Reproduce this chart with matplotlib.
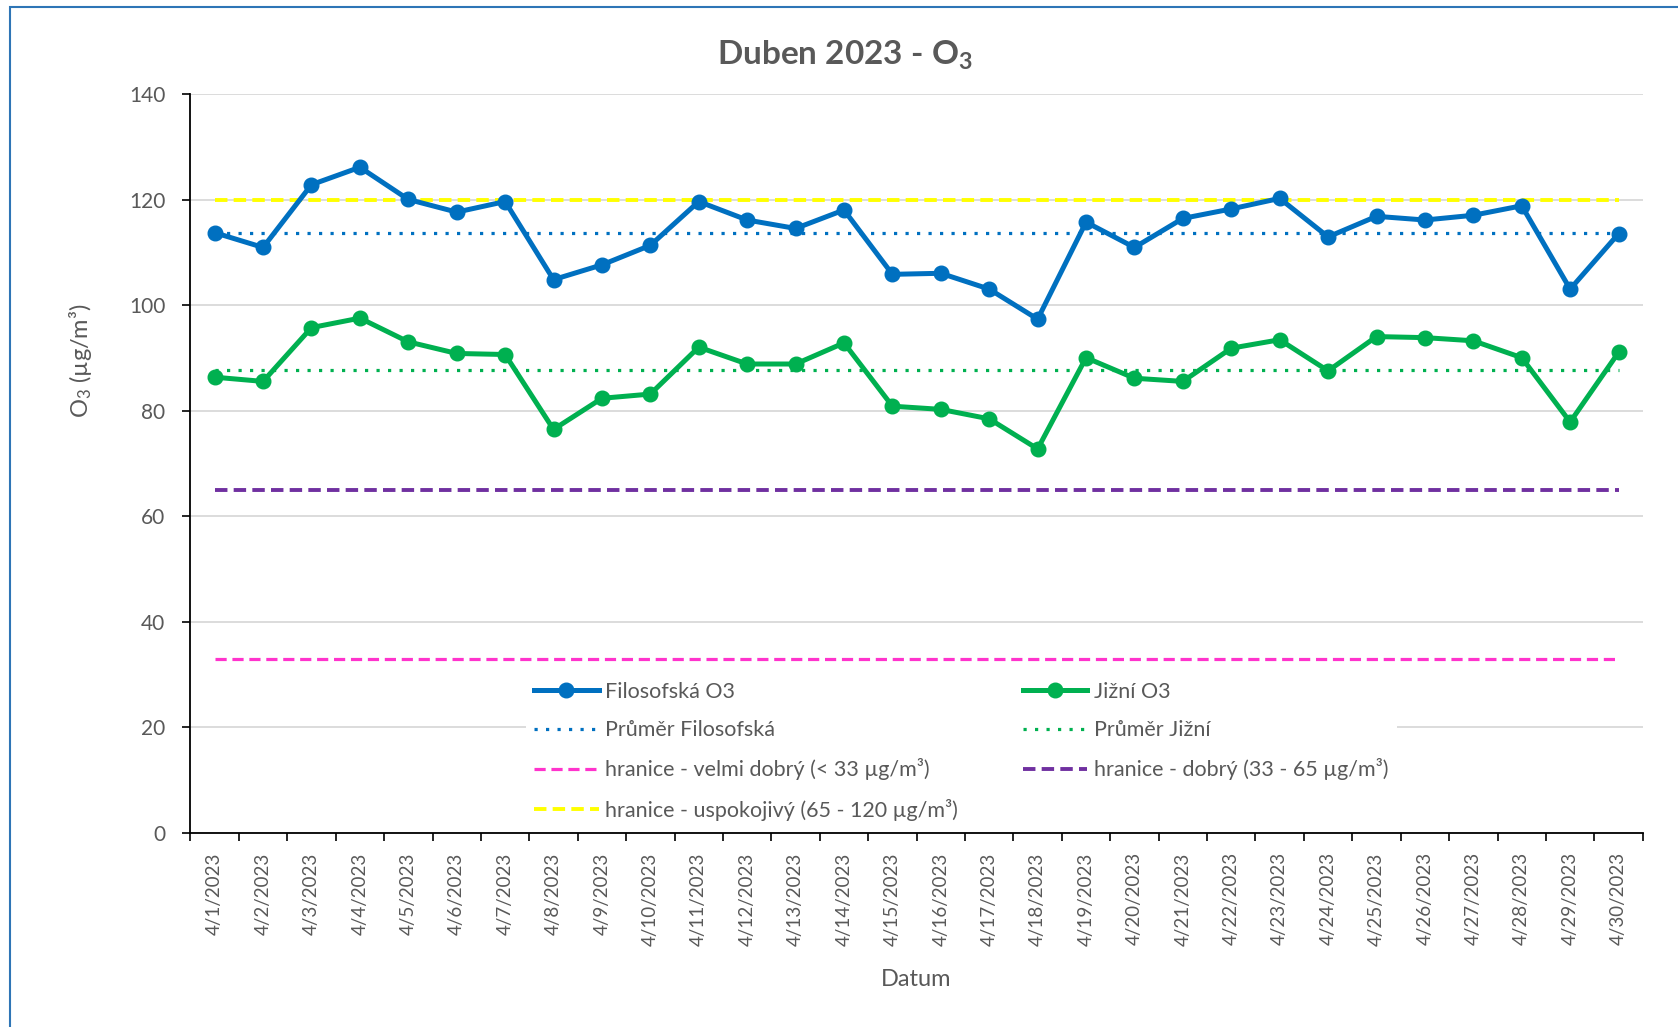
import numpy as np
import matplotlib
matplotlib.use("Agg")
import matplotlib.pyplot as plt
from matplotlib.patches import Rectangle
from matplotlib.ticker import FixedLocator, MultipleLocator

plt.rcParams['font.family'] = ['Lato', 'DejaVu Sans']
plt.rcParams['mathtext.fontset'] = 'custom'
plt.rcParams['mathtext.rm'] = 'Lato'
plt.rcParams['mathtext.bf'] = 'Lato:bold'
plt.rcParams['mathtext.default'] = 'regular'

# data
dates = [f"4/{d}/2023" for d in range(1, 31)]
filosofska = [113.8, 111.0, 122.9, 126.2, 120.1, 117.7, 119.7, 104.9, 107.7, 111.4,
              119.7, 116.2, 114.6, 118.1, 105.9, 106.1, 103.1, 97.4, 115.8, 111.0,
              116.5, 118.3, 120.3, 113.0, 116.9, 116.2, 117.1, 118.9, 103.1, 113.6]
jizni = [86.4, 85.6, 95.8, 97.6, 93.1, 90.9, 90.7, 76.5, 82.4, 83.2,
         92.1, 88.9, 88.9, 92.9, 80.9, 80.3, 78.5, 72.8, 90.1, 86.2,
         85.6, 91.9, 93.5, 87.6, 94.1, 93.9, 93.3, 90.1, 77.9, 91.1]
prumer_filosofska = 113.8
prumer_jizni = 87.8
hranice_velmi_dobry = 33
hranice_dobry = 65
hranice_uspokojivy = 120

gray = '#595959'
x = np.arange(len(dates))

fig = plt.figure(figsize=(16.78, 10.27), dpi=100)
ax = fig.add_axes([0.1135, 0.189, 0.8655, 0.719])

# modry ramecek (horni a levy okraj)
fig.patches.append(Rectangle((0.0057, -0.2), 1.5, 0.9927 + 0.2, transform=fig.transFigure,
                             fill=False, edgecolor='#2E75B6', linewidth=1.5, clip_on=False))

h1, = ax.plot(x, filosofska, '-o', color='#0070C0', lw=3.6, ms=10.5, label='Filosofská O3', zorder=5)
h2, = ax.plot(x, jizni, '-o', color='#00B050', lw=3.6, ms=10.5, label='Jižní O3', zorder=5)
h3, = ax.plot(x, [prumer_filosofska] * len(x), color='#0070C0', lw=2.3,
              linestyle=(0, (1, 2.6)), label='Průměr Filosofská', zorder=3)
h4, = ax.plot(x, [prumer_jizni] * len(x), color='#00B050', lw=2.3,
              linestyle=(0, (1, 2.6)), label='Průměr Jižní', zorder=3)
h5, = ax.plot(x, [hranice_velmi_dobry] * len(x), color='#FF33CC', lw=2.3,
              linestyle=(0, (3.5, 1.8)), label='hranice - velmi dobrý (< 33 µg/m³)', zorder=3)
h6, = ax.plot(x, [hranice_dobry] * len(x), color='#7030A0', lw=2.8,
              linestyle=(0, (3.2, 1.6)), label='hranice - dobrý (33 - 65 µg/m³)', zorder=3)
h7, = ax.plot(x, [hranice_uspokojivy] * len(x), color='#FFFF00', lw=2.8,
              linestyle=(0, (3.2, 1.6)), label='hranice - uspokojivý (65 - 120 µg/m³)', zorder=4)

ax.set_xlim(-0.5, len(x) - 0.5)
ax.set_ylim(0, 140)
ax.yaxis.set_major_locator(MultipleLocator(20))
ax.grid(axis='y', color='#D9D9D9', lw=1.3, zorder=0)
ax.set_axisbelow(True)

ax.set_xticks(x)
ax.set_xticklabels(dates, rotation=90, fontsize=13.5, color=gray)
ax.xaxis.set_minor_locator(FixedLocator(np.arange(-0.5, len(x), 1)))
ax.tick_params(axis='x', which='major', length=0, pad=14)
ax.tick_params(axis='x', which='minor', length=6, width=1.2, color='black')
ax.tick_params(axis='y', length=6, width=1.2, color='black', labelsize=15, labelcolor=gray, pad=12)

for s in ['top', 'right']:
    ax.spines[s].set_visible(False)
for s in ['left', 'bottom']:
    ax.spines[s].set_color('black')
    ax.spines[s].set_linewidth(1.3)

fig.text(0.5036, 0.946, r'Duben 2023 - $\mathbf{O_3}$', fontsize=24, fontweight='bold',
         color=gray, ha='center', va='center')
ax.set_ylabel(r'O$_3$ (µg/m³)', fontsize=17, color=gray)
ax.yaxis.set_label_coords(-0.0663, 0.64)
ax.set_xlabel('Datum', fontsize=17, color=gray)
ax.xaxis.set_label_coords(0.5, -0.184)

leg = ax.legend(handles=[h1, h3, h5, h7, h2, h4, h6], ncol=2,
                bbox_to_anchor=(0.2307, 0.0048), loc='lower left',
                frameon=True, fancybox=False, edgecolor='none', facecolor='white', framealpha=1,
                fontsize=15.5, handlelength=3.0, handletextpad=0.3, labelspacing=0.85,
                columnspacing=3.0, borderaxespad=0, borderpad=0.4)
for t in leg.get_texts():
    t.set_color(gray)

fig.savefig('out.png', dpi=100)
